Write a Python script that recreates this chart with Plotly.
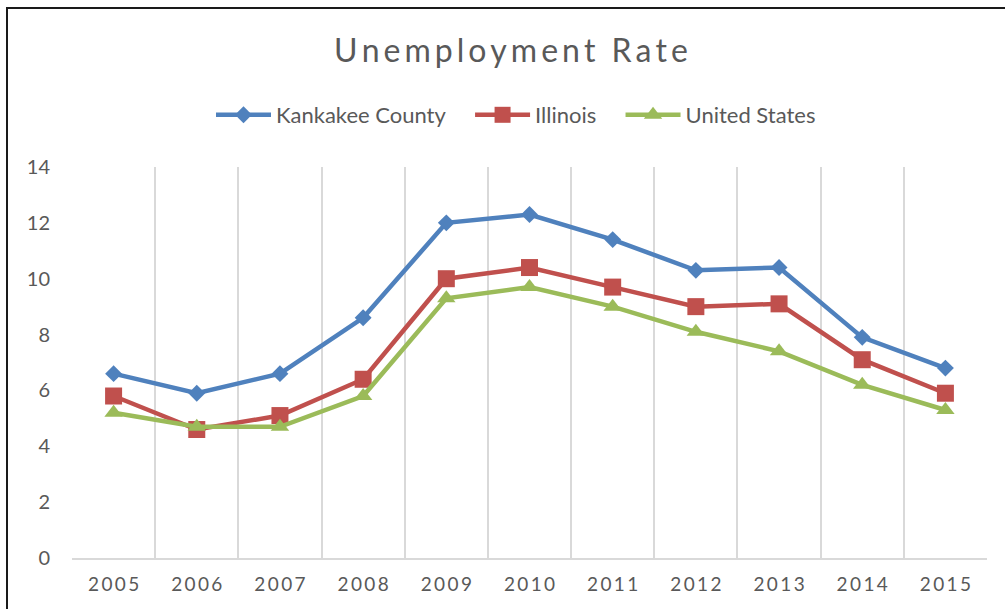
import plotly.graph_objects as go

years = ["2005", "2006", "2007", "2008", "2009", "2010", "2011", "2012", "2013", "2014", "2015"]
kankakee = [6.6, 5.9, 6.6, 8.6, 12.0, 12.3, 11.4, 10.3, 10.4, 7.9, 6.8]
illinois = [5.8, 4.6, 5.1, 6.4, 10.0, 10.4, 9.7, 9.0, 9.1, 7.1, 5.9]
united_states = [5.2, 4.7, 4.7, 5.8, 9.3, 9.7, 9.0, 8.1, 7.4, 6.2, 5.3]
y_ticks = [0, 2, 4, 6, 8, 10, 12, 14]

HS = "\u2009"
def spaced(s):
    return HS.join(list(s))

tick_text = [spaced(y) for y in years]

FONT = "Lato, Open Sans, sans-serif"
GAP = "\u2003\u2009"

fig = go.Figure()
series = [
    ("Kankakee County", kankakee, "#4F81BD", "diamond", 13),
    ("Illinois", illinois, "#C0504D", "square", 17),
    ("United States", united_states, "#9BBB59", "triangle-up", 16),
]
for i, (name, vals, color, sym, size) in enumerate(series):
    label = name + (GAP if i < len(series) - 1 else "")
    fig.add_trace(go.Scatter(
        x=years, y=vals, name=label, mode="lines+markers",
        line=dict(color=color, width=4.5),
        marker=dict(symbol=sym, size=size, color=color),
    ))

W, H = 1005, 609
L, R, T, B = 72, 18, 167, 51
pw = W - L - R
ph = H - T - B

fig.update_layout(
    width=W, height=H,
    margin=dict(l=L, r=R, t=T, b=B),
    paper_bgcolor="white", plot_bgcolor="white",
    font=dict(family=FONT, color="#595959", size=19),
    title=dict(text=HS.join(list("Unemployment Rate")), x=511 / W, xanchor="center",
               y=1 - 51 / H, yanchor="middle",
               font=dict(size=32, color="#595959", family=FONT)),
    legend=dict(orientation="h", x=(516 - L) / pw, xanchor="center",
                y=1 + (T - 115) / ph, yanchor="middle",
                font=dict(size=22, color="#595959", family=FONT),
                itemwidth=55, tracegroupgap=0),
    showlegend=True,
    xaxis=dict(type="category", tickson="boundaries", showgrid=True,
               gridcolor="#D9D9D9", gridwidth=1.5,
               showline=True, linecolor="#D9D9D9", linewidth=1.5,
               tickvals=years, ticktext=tick_text, ticks="",
               range=[-0.5, 10.5], ticklabelstandoff=8, automargin=False,
               tickfont=dict(size=19, color="#595959")),
    yaxis=dict(range=[0, 14], tickvals=y_ticks, showgrid=False, zeroline=False,
               showline=False, ticks="", ticklabelstandoff=21, automargin=False,
               tickfont=dict(size=20, color="#595959")),
    shapes=[dict(type="rect", xref="paper", yref="paper",
                 x0=(7 - L) / pw, x1=(1015 - L) / pw,
                 y0=-(B + 20) / ph, y1=1 + (T - 8) / ph,
                 line=dict(color="#1a1a1a", width=2), fillcolor="rgba(0,0,0,0)", layer="below")],
)

fig.write_html("out.html", config={"displayModeBar": False},
               post_script="document.body.style.margin='0';")
